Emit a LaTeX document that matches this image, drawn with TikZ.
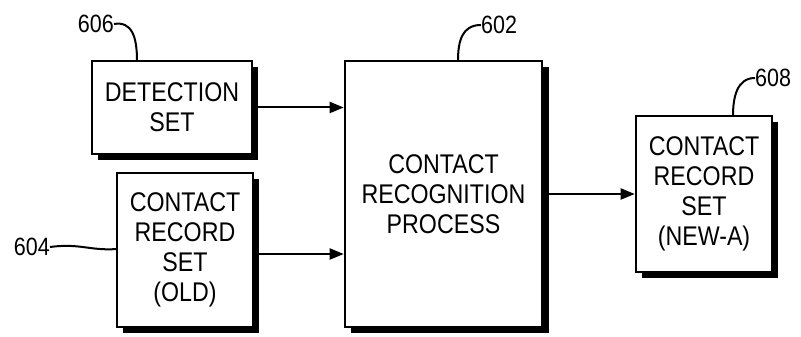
\documentclass[tikz,border=0pt]{standalone}
\usepackage{fontspec}
\setmainfont{Liberation Sans}[FakeStretch=0.86]
\usetikzlibrary{arrows.meta}
\begin{document}
\begin{tikzpicture}[x=1pt,y=1pt,
  blk/.style={draw=black,line width=2.6pt,fill=white,align=center,inner sep=0pt,
    font=\fontsize{27}{30}\selectfont},
  shad/.style={fill=black},
  arr/.style={line width=2pt,-{Triangle[length=14pt,width=11pt]}},
  lead/.style={line width=2pt},
  num/.style={inner sep=0pt,font=\fontsize{25}{25}\selectfont}]
\useasboundingbox (0,0) rectangle (801,337);
% shadows
\fill[shad] (98,177) rectangle (258,270);
\fill[shad] (123,4) rectangle (259,158);
\fill[shad] (351,4) rectangle (549,270);
\fill[shad] (642,59) rectangle (778,215);
% boxes
\node[blk,minimum width=160pt,minimum height=93pt] (det) at (172,229.5) {DETECTION\\SET};
\node[blk,minimum width=136pt,minimum height=154pt] (old) at (185,87) {CONTACT\\RECORD\\SET\\(OLD)};
\node[blk,minimum width=197pt,minimum height=266pt] (proc) at (443.5,143) {CONTACT\\RECOGNITION\\PROCESS};
\node[blk,minimum width=136pt,minimum height=156pt] (new) at (704,143) {CONTACT\\RECORD\\SET\\(NEW-A)};
% arrows
\draw[arr] (det.east) -- (det.east -| proc.west);
\coordinate (oe) at ([yshift=-4pt]old.east);
\draw[arr] (oe) -- (oe -| proc.west);
\draw[arr] (proc.east |- new.west) -- (new.west);
% labels
\node[num,anchor=east] (n606) at (114,313) {606};
\node[num,anchor=east] (n604) at (50,90) {604};
\node[num,anchor=west] (n602) at (481,312) {602};
\node[num,anchor=west] (n608) at (755,259) {608};
\coordinate (t606) at (137,276);
\coordinate (t604) at (117,88);
\coordinate (t602) at (458,276);
\coordinate (t608) at (733,221);
\draw[lead] (n606.east) .. controls (132,316) and (137,300) .. (t606);
\draw[lead] (n604.east) .. controls (80,94) and (90,86) .. (t604);
\draw[lead] (n602.west) .. controls (462,312) and (458,296) .. (t602);
\draw[lead] (n608.west) .. controls (737,259) and (733,240) .. (t608);
\end{tikzpicture}
\end{document}
